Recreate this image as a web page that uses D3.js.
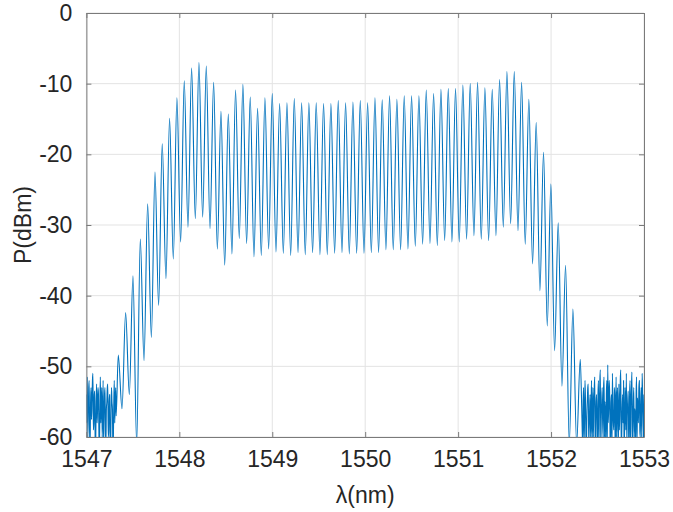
<!DOCTYPE html>
<html>
<head>
<meta charset="utf-8">
<script src="https://cdn.jsdelivr.net/npm/d3@7"></script>
<style>
  body { margin: 0; background: #fff; }
  text { font-family: Arial, "Liberation Sans", Helvetica, sans-serif; fill: #262626; }
</style>
</head>
<body>
<svg id="chart" width="673" height="512"></svg>
<script>
// Axis ticks
const xTicks = [1547, 1548, 1549, 1550, 1551, 1552, 1553];
const yTicks = [-60, -50, -40, -30, -20, -10, 0];

// Noise floor below the comb, [wavelength nm, power dBm]
const noiseLeft = [
  [1547.000, -54], [1547.005, -58], [1547.010, -51.5], [1547.015, -60], [1547.020, -57],
  [1547.025, -53], [1547.030, -52], [1547.035, -61], [1547.040, -60.5], [1547.045, -55],
  [1547.050, -53], [1547.055, -57.5], [1547.060, -55], [1547.065, -52], [1547.070, -51],
  [1547.075, -59], [1547.080, -58], [1547.085, -54], [1547.090, -53.5], [1547.095, -62],
  [1547.100, -61], [1547.105, -55], [1547.110, -52.5], [1547.115, -58], [1547.120, -56],
  [1547.125, -53], [1547.130, -54], [1547.135, -60], [1547.140, -62], [1547.145, -56],
  [1547.150, -51.5], [1547.155, -58], [1547.160, -55.5], [1547.165, -53], [1547.170, -60],
  [1547.175, -57], [1547.180, -52], [1547.185, -61], [1547.190, -57.5], [1547.195, -54],
  [1547.200, -53], [1547.205, -59], [1547.210, -61], [1547.215, -56], [1547.220, -55],
  [1547.225, -53], [1547.230, -52.5], [1547.235, -60], [1547.240, -59], [1547.245, -55],
  [1547.250, -54], [1547.255, -61], [1547.260, -62], [1547.265, -57], [1547.270, -53],
  [1547.275, -55], [1547.280, -56], [1547.285, -62], [1547.290, -60.5], [1547.295, -55],
  [1547.300, -52], [1547.305, -58], [1547.310, -55], [1547.315, -53], [1547.320, -57]
];

// Comb lines: peak wavelengths (nm) and peak powers (dBm)
const peakWl = [
  1547.343, 1547.422, 1547.501, 1547.580, 1547.659, 1547.738, 1547.816, 1547.895, 1547.974, 1548.053,
  1548.132, 1548.211, 1548.290, 1548.369, 1548.448, 1548.527, 1548.605, 1548.684, 1548.763, 1548.842,
  1548.921, 1549.000, 1549.079, 1549.158, 1549.237, 1549.316, 1549.394, 1549.473, 1549.552, 1549.631,
  1549.710, 1549.789, 1549.868, 1549.947, 1550.026, 1550.105, 1550.183, 1550.262, 1550.341, 1550.420,
  1550.499, 1550.578, 1550.657, 1550.736, 1550.815, 1550.894, 1550.972, 1551.051, 1551.130, 1551.209,
  1551.288, 1551.367, 1551.446, 1551.525, 1551.604, 1551.683, 1551.761, 1551.840, 1551.919, 1551.998,
  1552.077, 1552.156, 1552.235, 1552.314
];
const peakDb = [
  -48.4, -42.4, -37.2, -32.0, -27.0, -22.5, -18.5, -14.9, -12.0, -9.6,
  -7.8, -7.0, -7.5, -9.8, -13.9, -14.3, -10.9, -10.1, -11.9, -13.5,
  -12.0, -11.4, -12.8, -12.7, -12.1, -12.7, -12.7, -12.7, -12.8, -12.8,
  -12.4, -12.7, -12.6, -12.4, -12.7, -12.0, -12.3, -11.7, -12.2, -11.7,
  -11.7, -11.7, -10.9, -11.4, -10.8, -10.7, -10.7, -10.2, -10.0, -9.8,
  -10.6, -10.8, -9.4, -8.3, -8.3, -9.8, -12.2, -15.5, -19.7, -24.2,
  -29.7, -35.7, -41.9, -49.0
];

// Troughs between neighbouring comb lines
const valleyWl = [
  1547.383, 1547.462, 1547.541, 1547.620, 1547.699, 1547.777, 1547.856, 1547.935, 1548.014, 1548.093,
  1548.172, 1548.251, 1548.330, 1548.409, 1548.488, 1548.566, 1548.645, 1548.724, 1548.803, 1548.882,
  1548.961, 1549.040, 1549.119, 1549.198, 1549.277, 1549.355, 1549.434, 1549.513, 1549.592, 1549.671,
  1549.750, 1549.829, 1549.908, 1549.987, 1550.066, 1550.144, 1550.223, 1550.302, 1550.381, 1550.460,
  1550.539, 1550.618, 1550.697, 1550.776, 1550.855, 1550.933, 1551.012, 1551.091, 1551.170, 1551.249,
  1551.328, 1551.407, 1551.486, 1551.565, 1551.644, 1551.722, 1551.801, 1551.880, 1551.959, 1552.038,
  1552.117, 1552.196, 1552.275
];
const valleyDb = [
  -56, -54, -61, -49.2, -45.9, -41.4, -37.6, -34.8, -32.4, -30.3,
  -29.1, -28.9, -30.5, -33.4, -35.7, -34.1, -31.9, -32.6, -34.5, -34.3,
  -33.4, -33.8, -34.0, -34.3, -33.9, -34.2, -33.9, -34.2, -34.2, -34.0,
  -33.9, -34.1, -34.0, -34.0, -33.9, -33.9, -33.5, -33.5, -33.5, -33.4,
  -33.0, -32.7, -32.6, -32.9, -32.2, -32.4, -32.4, -32.0, -31.5, -32.0,
  -32.2, -31.5, -30.3, -29.8, -30.8, -32.7, -35.5, -39.3, -44.3, -47.8,
  -52.8, -61, -61
];

const noiseRight = [
  [1552.330, -56], [1552.335, -59], [1552.340, -61], [1552.345, -55], [1552.350, -53],
  [1552.355, -61], [1552.360, -58], [1552.365, -52], [1552.370, -54.5], [1552.375, -60],
  [1552.380, -62], [1552.385, -57], [1552.390, -55], [1552.395, -53], [1552.400, -52.5],
  [1552.405, -61], [1552.410, -59], [1552.415, -56], [1552.420, -54], [1552.425, -60],
  [1552.430, -57], [1552.435, -52], [1552.440, -61], [1552.445, -58], [1552.450, -53],
  [1552.455, -60], [1552.460, -55.5], [1552.465, -53], [1552.470, -51.5], [1552.475, -62],
  [1552.480, -58], [1552.485, -55], [1552.490, -54], [1552.495, -60], [1552.500, -62],
  [1552.505, -54], [1552.510, -52], [1552.515, -61], [1552.520, -56], [1552.525, -52],
  [1552.530, -50.5], [1552.535, -62], [1552.540, -57.5], [1552.545, -55], [1552.550, -53],
  [1552.555, -58], [1552.560, -60], [1552.565, -53], [1552.570, -51.5], [1552.575, -60],
  [1552.580, -55], [1552.585, -57], [1552.590, -62], [1552.595, -54], [1552.600, -52],
  [1552.605, -61], [1552.610, -49.8], [1552.615, -58], [1552.620, -56], [1552.625, -52],
  [1552.630, -53.5], [1552.635, -60], [1552.640, -61], [1552.645, -55], [1552.650, -54],
  [1552.655, -62], [1552.660, -51], [1552.665, -56], [1552.670, -58], [1552.675, -59],
  [1552.680, -53], [1552.685, -54], [1552.690, -62], [1552.695, -57], [1552.700, -51.5],
  [1552.705, -60], [1552.710, -55], [1552.715, -53], [1552.720, -59], [1552.725, -61],
  [1552.730, -52.5], [1552.735, -59], [1552.740, -56.5], [1552.745, -52], [1552.750, -50.5],
  [1552.755, -62], [1552.760, -60], [1552.765, -56], [1552.770, -54], [1552.775, -58],
  [1552.780, -52], [1552.785, -60], [1552.790, -61], [1552.795, -53], [1552.800, -55],
  [1552.805, -59], [1552.810, -51], [1552.815, -61], [1552.820, -57], [1552.825, -55],
  [1552.830, -53.5], [1552.835, -60], [1552.840, -62], [1552.845, -54], [1552.850, -52],
  [1552.855, -61], [1552.860, -55.5], [1552.865, -53], [1552.870, -50.8], [1552.875, -62],
  [1552.880, -59], [1552.885, -55], [1552.890, -53], [1552.895, -60], [1552.900, -56],
  [1552.905, -57], [1552.910, -61], [1552.915, -54], [1552.920, -51.5], [1552.925, -61],
  [1552.930, -54.5], [1552.935, -56], [1552.940, -58], [1552.945, -53], [1552.950, -52],
  [1552.955, -59], [1552.960, -60], [1552.965, -55], [1552.970, -53], [1552.975, -60],
  [1552.980, -51], [1552.985, -54], [1552.990, -57], [1552.995, -61], [1553.000, -54]
];

// Assemble the trace in wavelength order
const comb = [];
peakWl.forEach((w, i) => {
  comb.push([w, peakDb[i]]);
  if (i < valleyWl.length) comb.push([valleyWl[i], valleyDb[i]]);
});
const trace = noiseLeft.concat(comb, noiseRight);

const svg = d3.select("#chart");
const plot = { left: 86.4, right: 644, top: 13, bottom: 437 };

const x = d3.scaleLinear().domain([1547, 1553]).range([plot.left, plot.right]);
const y = d3.scaleLinear().domain([-60, 0]).range([plot.bottom, plot.top]);

// Grid
const grid = svg.append("g").attr("stroke", "#e3e3e3").attr("stroke-width", 1);
xTicks.forEach(t => grid.append("line")
  .attr("x1", x(t)).attr("x2", x(t)).attr("y1", plot.top).attr("y2", plot.bottom));
yTicks.forEach(t => grid.append("line")
  .attr("x1", plot.left).attr("x2", plot.right).attr("y1", y(t)).attr("y2", y(t)));

// Spectrum trace
svg.append("clipPath").attr("id", "clip")
  .append("rect")
  .attr("x", plot.left).attr("y", plot.top)
  .attr("width", plot.right - plot.left).attr("height", plot.bottom - plot.top);

const line = d3.line()
  .x(d => x(d[0]))
  .y(d => y(d[1]))
  .curve(d3.curveMonotoneX);

svg.append("path")
  .datum(trace)
  .attr("clip-path", "url(#clip)")
  .attr("fill", "none")
  .attr("stroke", "#0072BD")
  .attr("stroke-width", 1.1)
  .attr("stroke-linejoin", "round")
  .attr("d", line);

// Axes with inward ticks on all four sides
const axisColor = "#7a7a7a";
const fontSize = 23;
const plain = d => String(d);

const xAxisB = d3.axisBottom(x).tickValues(xTicks).tickFormat(plain)
  .tickSizeInner(-5).tickSizeOuter(0).tickPadding(14);
const xAxisT = d3.axisTop(x).tickValues(xTicks).tickFormat("")
  .tickSizeInner(-5).tickSizeOuter(0);
const yAxisL = d3.axisLeft(y).tickValues(yTicks).tickFormat(plain)
  .tickSizeInner(-5).tickSizeOuter(0).tickPadding(14);
const yAxisR = d3.axisRight(y).tickValues(yTicks).tickFormat("")
  .tickSizeInner(-5).tickSizeOuter(0);

function styleAxis(g) {
  g.select(".domain").attr("stroke", axisColor);
  g.selectAll(".tick line").attr("stroke", axisColor);
  g.selectAll(".tick text")
    .attr("font-size", fontSize)
    .attr("font-family", "Arial, 'Liberation Sans', Helvetica, sans-serif")
    .attr("fill", "#262626");
}

svg.append("g").attr("transform", `translate(0,${plot.bottom})`).call(xAxisB).call(styleAxis);
svg.append("g").attr("transform", `translate(0,${plot.top})`).call(xAxisT).call(styleAxis);
svg.append("g").attr("transform", `translate(${plot.left},0)`).call(yAxisL).call(styleAxis);
svg.append("g").attr("transform", `translate(${plot.right},0)`).call(yAxisR).call(styleAxis);

// Axis titles
svg.append("text")
  .attr("x", (plot.left + plot.right) / 2)
  .attr("y", 503)
  .attr("text-anchor", "middle")
  .attr("font-size", fontSize)
  .text("λ(nm)");

svg.append("text")
  .attr("transform", `translate(31,${(plot.top + plot.bottom) / 2}) rotate(-90)`)
  .attr("text-anchor", "middle")
  .attr("font-size", fontSize)
  .text("P(dBm)");
</script>
</body>
</html>
